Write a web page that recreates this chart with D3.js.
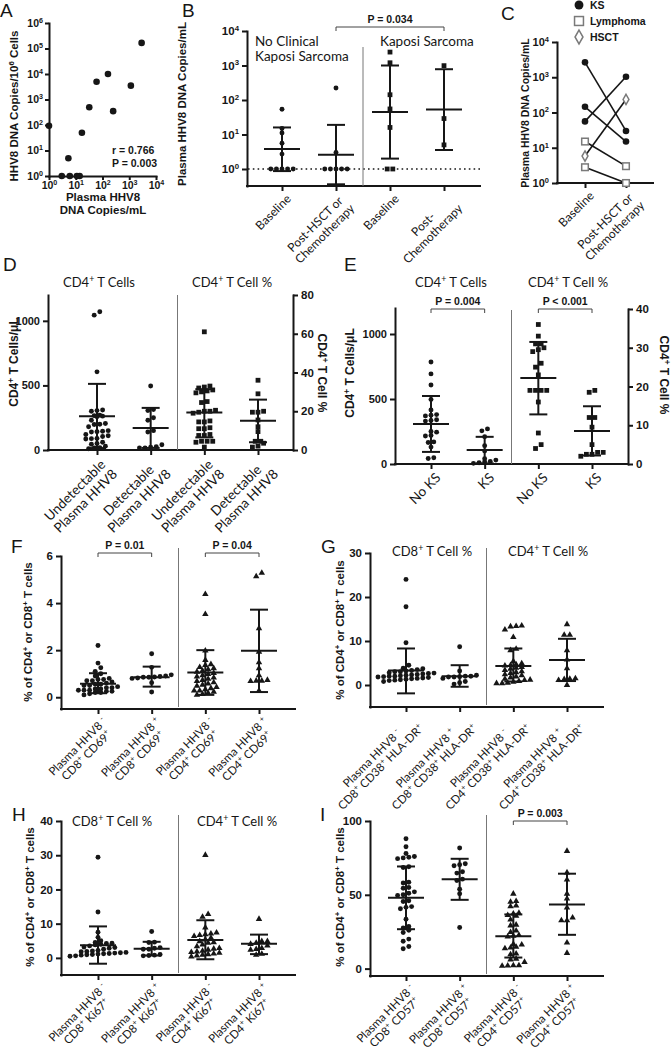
<!DOCTYPE html>
<html><head><meta charset="utf-8">
<script src="https://cdn.jsdelivr.net/npm/d3@7"></script>
<style>body{margin:0;background:#fff}svg{display:block}</style>
</head><body>
<svg id="fig" width="671" height="1049"></svg>
<script>
// ================= DATA =================
// Panel A
const aPlasma = [1, 3, 5.3, 6, 11, 14, 17, 32, 60, 160, 250, 1150, 2900];
const aCells  = [94, 1, 5, 1, 1, 1, 50, 500, 5000, 10000, 350, 3500, 166000];
const aXTicks = [1, 10, 100, 1000, 10000];
const aYTicks = [1, 10, 100, 1000, 10000, 100000, 1000000];
// Panel B
const bKeys = ["b1", "b2", "b3", "b4"];
const bLabels = [["Baseline"], ["Post-HSCT or", "Chemotherapy"], ["Baseline"], ["Post-", "Chemotherapy"]];
const bValues = [[54, 15, 11, 5.6, 2.7, 1, 1, 1, 1, 1], [222, 3, 1, 1, 1, 1, 1], [2450, 1200, 142, 55, 16, 1, 1], [990, 29, 5]];
const bMean = [3.8, 2.6, 45, 53];
const bLow = [0.87, 0.36, 2, 3.55];
const bHigh = [16, 19, 1000, 780];
const bYTicks = [1, 10, 100, 1000, 10000];
// Panel C
const cKeys = ["base", "post"];
const cLabels = [["Baseline"], ["Post-HSCT or", "Chemotherapy"]];
const cGroup = ["KS", "KS", "KS", "Lymphoma", "Lymphoma", "HSCT"];
const cBaseline = [2650, 145, 56, 15, 2.8, 5.8];
const cPost = [30, 15, 1030, 3.0, 1, 235];
const cLegend = ["KS", "Lymphoma", "HSCT"];
const cYTicks = [1, 10, 100, 1000, 10000];
// Panel D
const dKeys = ["d1", "d2", "d3", "d4"];
const dLabels = [["Undetectable", "Plasma HHV8"], ["Detectable", "Plasma HHV8"], ["Undetectable", "Plasma HHV8"], ["Detectable", "Plasma HHV8"]];
const dValues = [
  [1070, 1044, 605, 310, 305, 300, 270, 266, 262, 258, 230, 205, 200, 198, 180, 150, 145, 142, 140, 120, 110, 105, 90, 88, 85, 60, 50, 45, 30, 18, 15, 10],
  [496, 313, 305, 250, 230, 150, 140, 41, 26, 21, 16, 16],
  [61, 33, 32.5, 32, 31, 30.5, 30, 29.5, 25, 24.5, 20.5, 20, 20, 19.5, 19, 15, 14.5, 14.5, 11.5, 11, 11, 8, 7.5, 7.5, 4.5, 4.5, 4.5, 4, 1.5],
  [36, 29, 20, 19.5, 19.5, 15.5, 12, 9.5, 4.5, 4.5, 3.5, 1.5, 2]];
const dMean = [261, 171, 19.4, 15.1];
const dLow = [15, 16, 6.5, 4];
const dHigh = [512, 326, 31.4, 26];
const dLeftTicks = [0, 500, 1000];
const dRightTicks = [0, 20, 40, 60, 80];
// Panel E
const eKeys = ["e1", "e2", "e3", "e4"];
const eLabels = [["No KS"], ["KS"], ["No KS"], ["KS"]];
const eValues = [
  [784, 693, 608, 497, 415, 380, 375, 370, 340, 335, 330, 250, 245, 220, 215, 170, 165, 130, 48, 42],
  [270, 255, 210, 140, 100, 40, 30, 20, 15, 10, 5],
  [36, 33, 31, 31, 30, 29.5, 29, 26, 25, 23, 19, 19, 19, 19, 16, 8, 5, 4],
  [19, 18.5, 12, 12, 9.5, 5, 3, 3, 2.5, 2.5, 2]];
const eMean = [307, 108, 22.2, 8.5];
const eLow = [93, 5, 12.8, 2.2];
const eHigh = [523, 209, 31.5, 14.9];
const eLeftTicks = [0, 500, 1000];
const eRightTicks = [0, 10, 20, 30, 40];
// Panel F
const fKeys = ["f1", "f2", "f3", "f4"];
const fLabels = [["Plasma HHV8 ^{-}", "CD8^{+} CD69^{+}"], ["Plasma HHV8 ^{+}", "CD8^{+} CD69^{+}"], ["Plasma HHV8 ^{-}", "CD4^{+} CD69^{+}"], ["Plasma HHV8 ^{+}", "CD4^{+} CD69^{+}"]];
const fValues = [
  [2.2, 1.45, 1.25, 1.1, 1.0, 0.9, 0.8, 0.75, 0.75, 0.7, 0.7, 0.65, 0.6, 0.55, 0.55, 0.5, 0.5, 0.45, 0.4, 0.4, 0.35, 0.35, 0.3, 0.3, 0.3, 0.25, 0.25, 0.2, 0.2, 0.15, 0.1],
  [1.85, 1.27, 0.95, 0.9, 0.88, 0.86, 0.85, 0.85, 0.82, 0.8, 0.62, 0.22],
  [4.4, 3.55, 2.0, 1.6, 1.42, 1.38, 1.3, 1.25, 1.2, 1.15, 1.1, 1.05, 1.0, 0.95, 0.9, 0.85, 0.8, 0.75, 0.7, 0.65, 0.6, 0.55, 0.5, 0.45, 0.4, 0.35, 0.3, 0.3, 0.25, 0.2, 0.15, 0.12],
  [5.3, 5.15, 2.95, 1.95, 1.5, 1.25, 0.95, 0.75, 0.72, 0.72, 0.7, 0.3]];
const fMean = [0.57, 0.85, 1.05, 1.97];
const fLow = [0.17, 0.45, 0.1, 0.22];
const fHigh = [1.02, 1.3, 2.0, 3.72];
const fTicks = [0, 2, 4, 6];
// Panel G
const gKeys = ["g1", "g2", "g3", "g4"];
const gLabels = [["Plasma HHV8 ^{-}", "CD8^{+} CD38^{+} HLA-DR^{+}"], ["Plasma HHV8 ^{+}", "CD8^{+} CD38^{+} HLA-DR^{+}"], ["Plasma HHV8 ^{-}", "CD4^{+} CD38^{+} HLA-DR^{+}"], ["Plasma HHV8 ^{+}", "CD4^{+} CD38^{+} HLA-DR^{+}"]];
const gValues = [
  [24, 17.8, 9.6, 4.5, 3.8, 3.7, 3.5, 3.3, 3.2, 3, 3, 2.8, 2.7, 2.6, 2.5, 2.4, 2.3, 2.2, 2.1, 2, 2, 1.9, 1.8, 1.7, 1.6, 1.5, 1.4, 1.3, 1.2, 1.1, 1.0, 0.8],
  [8.7, 3.2, 2.2, 2.0, 2.0, 1.9, 1.8, 1.8, 1.5, 0.8, 0.5, 0.2],
  [13.6, 13.5, 13.4, 12.7, 11, 8.3, 8, 5.5, 5, 4.8, 4.6, 4.5, 4.2, 4, 3.8, 3.5, 3.2, 3, 2.8, 2.5, 2.3, 2, 1.8, 1.5, 1.3, 1.2, 1, 0.8, 0.6, 0.5, 0.5],
  [13.9, 11.5, 11.5, 8, 5.9, 3.9, 1.6, 1.5, 1.4, 1.2, 0.1]];
const gMean = [3.3, 2.0, 4.3, 5.7];
const gLow = [-1.9, -0.4, 0.8, 0.9];
const gHigh = [8.3, 4.5, 8.3, 10.5];
const gTicks = [0, 10, 20, 30];
// Panel H
const hKeys = ["h1", "h2", "h3", "h4"];
const hLabels = [["Plasma HHV8 ^{-}", "CD8^{+} Ki67^{+}"], ["Plasma HHV8 ^{+}", "CD8^{+} Ki67^{+}"], ["Plasma HHV8 ^{-}", "CD4^{+} Ki67^{+}"], ["Plasma HHV8 ^{+}", "CD4^{+} Ki67^{+}"]];
const hValues = [
  [29.4, 13.4, 7.5, 6, 5, 4.5, 4.3, 4.2, 4, 3.8, 3.5, 3.2, 3, 2.8, 2.5, 2.2, 2, 1.9, 1.8, 1.6, 1.5, 1.4, 1.3, 1.2, 1.1, 1, 0.9, 0.8, 0.6, 0.5],
  [7.7, 4.6, 4.5, 3.0, 2.8, 2.5, 2.5, 1.0, 0.8, 0.7, 0.6],
  [30.2, 12.9, 12.1, 9, 7.5, 7.2, 7, 6.8, 6.5, 6, 5.5, 5, 4.7, 4.5, 4, 3.5, 3, 2.8, 2.5, 2.2, 2, 1.8, 1.6, 1.4, 1.2, 1, 0.8, 0.5],
  [11.5, 5.0, 5.0, 4.5, 4.2, 3.7, 3.0, 2.7, 2.5, 1.3, 1.0]];
const hMean = [3.7, 2.7, 5.2, 4.1];
const hLow = [-1.7, 0.7, -0.4, 1.1];
const hHigh = [9.2, 4.7, 11, 6.8];
const hTicks = [0, 10, 20, 30, 40];
// Panel I
const iKeys = ["i1", "i2", "i3", "i4"];
const iLabels = [["Plasma HHV8 ^{-}", "CD8^{+} CD57^{+}"], ["Plasma HHV8 ^{+}", "CD8^{+} CD57^{+}"], ["Plasma HHV8 ^{-}", "CD4^{+} CD57^{+}"], ["Plasma HHV8 ^{+}", "CD4^{+} CD57^{+}"]];
const iValues = [
  [88, 82.5, 78, 76, 75.5, 75, 74.5, 69, 68.5, 58.5, 58, 55, 54.5, 52, 51, 50, 49.5, 46, 45.5, 42, 41.5, 40.5, 33.5, 28.5, 27.5, 26, 24.5, 20, 18.5, 15, 13.5],
  [81.7, 71, 70.4, 69.7, 65.6, 64.7, 60.6, 59.7, 53.8, 50.7, 27.8],
  [51, 46, 45.5, 43, 42.5, 38, 37.5, 36.5, 36, 33.5, 30, 29.5, 26, 25, 23, 22.5, 22, 17, 16.5, 15, 14.5, 14, 10.5, 10, 7, 6.5, 4.8, 2.5, 2.5, 2.3, 2.2],
  [80, 65.4, 60.6, 51, 47.7, 41.6, 34.8, 33, 33, 17.9, 10.9]];
const iMean = [48, 60.6, 22, 43.4];
const iLow = [26.7, 46.6, 7.5, 22.9];
const iHigh = [69.2, 74.4, 36.7, 64.3];
const iTicks = [0, 50, 100];

// ================= HELPERS =================
const svg = d3.select("#fig");
const INK = "#161616";
const FB = "'Liberation Sans', Arial, sans-serif";
const FR = "Lato, 'Open Sans', sans-serif";
const SHAPES = {circle: d3.symbolCircle, square: d3.symbolSquare, triangle: d3.symbolTriangle};
const AREA = {circle: 19, square: 23, triangle: 18};
const intFmt = d3.format("d");

function rich(sel, str, size) {
  const parts = str.split(/(\^\{[^}]*\})/).filter(s => s.length);
  let raised = false;
  parts.forEach(p => {
    if (p.startsWith("^{")) {
      sel.append("tspan").attr("dy", raised ? 0 : -0.38 * size).attr("font-size", 0.68 * size).text(p.slice(2, -1));
      raised = true;
    } else {
      const t = sel.append("tspan").text(p);
      if (raised) { t.attr("dy", 0.38 * size); raised = false; }
    }
  });
}
function txt(g, x, y, str, o = {}) {
  const size = o.size || 12;
  const t = g.append("text").attr("x", x).attr("y", y)
    .attr("font-family", o.font || FR).attr("font-size", size)
    .attr("font-weight", o.weight || "normal").attr("fill", o.fill || INK)
    .attr("text-anchor", o.anchor || "start");
  rich(t, str, size);
  return t;
}
function vtxt(g, cx, cy, str, o = {}, angle = -90) {
  const size = o.size || 12;
  const off = angle === -90 ? 0.36 * size : -0.36 * size;
  const t = g.append("text").attr("transform", `translate(${cx + off},${cy}) rotate(${angle})`)
    .attr("font-family", o.font || FB).attr("font-size", size)
    .attr("font-weight", o.weight || "bold").attr("fill", INK).attr("text-anchor", "middle");
  rich(t, str, size);
  return t;
}
function styleAxis(ax, size) {
  ax.attr("font-size", null).attr("font-family", null);
  ax.select(".domain").attr("stroke", INK).attr("stroke-width", 2).attr("stroke-linecap", "square");
  ax.selectAll(".tick line").attr("stroke", INK).attr("stroke-width", 2);
  ax.selectAll(".tick text").attr("fill", INK).attr("font-family", FB).attr("font-weight", "bold").attr("font-size", size);
}
function powLabels(ax, size) {
  ax.selectAll(".tick text").each(function (d) {
    const s = d3.select(this); s.text("");
    rich(s, "10^{" + Math.round(Math.log10(d)) + "}", size);
  });
}
function yLeft(g, scale, x, ticks, size = 11.5, pad = 3) {
  const ax = g.append("g").attr("transform", `translate(${x},0)`)
    .call(d3.axisLeft(scale).tickValues(ticks).tickSize(5).tickSizeOuter(0).tickPadding(pad).tickFormat(intFmt));
  styleAxis(ax, size);
  return ax;
}
function yRight(g, scale, x, ticks, size = 11.5) {
  const ax = g.append("g").attr("transform", `translate(${x},0)`)
    .call(d3.axisRight(scale).tickValues(ticks).tickSize(5).tickSizeOuter(0).tickPadding(3).tickFormat(intFmt));
  styleAxis(ax, size);
  return ax;
}
function xCats(g, xs, y0, x0, x1) {
  g.append("line").attr("x1", x0).attr("x2", x1).attr("y1", y0).attr("y2", y0)
    .attr("stroke", INK).attr("stroke-width", 2).attr("stroke-linecap", "square");
  const ax = g.append("g").attr("transform", `translate(0,${y0})`)
    .call(d3.axisBottom(xs).tickSize(5).tickSizeOuter(0).tickFormat(""));
  ax.select(".domain").remove();
  ax.selectAll(".tick line").attr("stroke", INK).attr("stroke-width", 2);
}
function catLabels(g, xs, keys, labels, y0, size, lh) {
  keys.forEach((k, i) => {
    const t = g.append("text").attr("transform", `translate(${xs(k) + 3},${y0 + 7}) rotate(-45)`)
      .attr("font-family", FR).attr("font-size", size).attr("fill", INK).attr("text-anchor", "middle");
    const spans = labels[i].map((ln, j) => {
      const s = t.append("tspan").attr("x", 0).attr("y", size * 0.78 + j * lh);
      rich(s, ln, size); return s;
    });
    const w = d3.max(spans, s => s.node().getComputedTextLength());
    spans.forEach(s => s.attr("x", -w / 2));
  });
}
function columns(g, xs, keys, vals, yScales, shapes, means, lows, highs) {
  keys.forEach((k, i) => {
    const y = yScales[i], cx = xs(k);
    const pts = vals[i].map(v => ({v, py: y(v)})).sort((a, b) => b.py - a.py);
    const bins = []; let cur = null;
    pts.forEach(p => {
      if (!cur || Math.abs(p.py - cur.start) > 4.2) { cur = {start: p.py, items: []}; bins.push(cur); }
      cur.items.push(p);
    });
    bins.forEach(b => { const n = b.items.length; b.items.forEach((p, j) => p.px = cx + (j - (n - 1) / 2) * 5.6); });
    const sym = d3.symbol().type(SHAPES[shapes[i]]).size(AREA[shapes[i]]);
    g.append("g").selectAll("path").data(pts).join("path").attr("d", sym)
      .attr("transform", p => `translate(${p.px},${p.py + (shapes[i] === "triangle" ? 0.5 : 0)})`).attr("fill", INK);
    const ym = y(means[i]), yl = y(lows[i]), yh = y(highs[i]);
    const eb = g.append("g").attr("stroke", INK).attr("stroke-width", 2);
    eb.append("line").attr("x1", cx).attr("x2", cx).attr("y1", yl).attr("y2", yh);
    eb.append("line").attr("x1", cx - 9).attr("x2", cx + 9).attr("y1", yl).attr("y2", yl);
    eb.append("line").attr("x1", cx - 9).attr("x2", cx + 9).attr("y1", yh).attr("y2", yh);
    eb.append("line").attr("x1", cx - 18).attr("x2", cx + 18).attr("y1", ym).attr("y2", ym);
  });
}
function bracket(g, xa, xb, y, label) {
  g.append("path").attr("d", `M${xa},${y + 4}V${y}H${xb}V${y + 4}`).attr("fill", "none")
    .attr("stroke", "#444").attr("stroke-width", 1);
  txt(g, (xa + xb) / 2, y - 4.5, label, {font: FB, weight: "bold", size: 10.5, anchor: "middle"});
}
function separator(g, x, y0, y1) {
  g.append("line").attr("x1", x).attr("x2", x).attr("y1", y0).attr("y2", y1).attr("stroke", "#777").attr("stroke-width", 1);
}
function letter(g, x, y, s) { txt(g, x, y, s, {font: FB, size: 19}); }

// ================= PANEL A =================
{
  const g = svg.append("g");
  const x = d3.scaleLog().domain([1, 1e4]).range([49, 156]);
  const y = d3.scaleLog().domain([1, 1e6]).range([176, 23]);
  const ax = g.append("g").attr("transform", "translate(0,176)")
    .call(d3.axisBottom(x).tickValues(aXTicks).tickSize(4).tickSizeOuter(0).tickPadding(2));
  styleAxis(ax, 10.5); powLabels(ax, 10.5);
  const ay = g.append("g").attr("transform", "translate(49,0)")
    .call(d3.axisLeft(y).tickValues(aYTicks).tickSize(4).tickSizeOuter(0).tickPadding(2));
  styleAxis(ay, 10.5); powLabels(ay, 10.5);
  g.selectAll("circle.a").data(aPlasma).join("circle").attr("class", "a")
    .attr("cx", (d) => x(d)).attr("cy", (d, i) => y(aCells[i])).attr("r", 3.3).attr("fill", INK);
  letter(g, 0, 17, "A");
  vtxt(g, 14, 106, "HHV8 DNA Copies/10^{6} Cells", {size: 11.5});
  txt(g, 103, 201, "Plasma HHV8", {font: FB, weight: "bold", size: 11.5, anchor: "middle"});
  txt(g, 103, 214, "DNA Copies/mL", {font: FB, weight: "bold", size: 11.5, anchor: "middle"});
  txt(g, 112, 154, "r = 0.766", {font: FB, weight: "bold", size: 10.5});
  txt(g, 112, 167, "P = 0.003", {font: FB, weight: "bold", size: 10.5});
}
// ================= PANEL B =================
{
  const g = svg.append("g");
  const xs = d3.scalePoint().domain(bKeys).range([282, 444]);
  const y = d3.scaleLog().domain([Math.pow(10, -0.493), 1e4]).range([186, 31]);
  const ay = g.append("g").attr("transform", "translate(247,0)")
    .call(d3.axisLeft(y).tickValues(bYTicks).tickSize(5).tickSizeOuter(0).tickPadding(3));
  styleAxis(ay, 11.5); powLabels(ay, 11.5);
  xCats(g, xs, 186, 247, 480);
  g.append("line").attr("x1", 248).attr("x2", 480).attr("y1", y(1)).attr("y2", y(1))
    .attr("stroke", INK).attr("stroke-width", 1.6).attr("stroke-dasharray", "1.6,3.2");
  separator(g, (xs("b2") + xs("b3")) / 2, 47, 186);
  columns(g, xs, bKeys, bValues, [y, y, y, y], ["circle", "circle", "square", "square"], bMean, bLow, bHigh);
  bracket(g, xs("b2"), xs("b4"), 27, "P = 0.034");
  txt(g, 255, 46, "No Clinical", {size: 13.5});
  txt(g, 255, 61, "Kaposi Sarcoma", {size: 13.5});
  txt(g, 380, 46, "Kaposi Sarcoma", {size: 13.5});
  catLabels(g, xs, bKeys, bLabels, 186, 12, 13.5);
  letter(g, 182, 17, "B");
  vtxt(g, 182, 104, "Plasma HHV8 DNA Copies/mL", {size: 11.5});
}
// ================= PANEL C =================
{
  const g = svg.append("g");
  const xs = d3.scalePoint().domain(cKeys).range([585, 626]);
  const y = d3.scaleLog().domain([1, 1e4]).range([183, 42]);
  const ay = g.append("g").attr("transform", "translate(557,0)")
    .call(d3.axisLeft(y).tickValues(cYTicks).tickSize(5).tickSizeOuter(0).tickPadding(3));
  styleAxis(ay, 11); powLabels(ay, 11);
  xCats(g, xs, 183, 557, 653);
  const line = d3.line();
  cBaseline.forEach((b, i) => {
    g.append("path").attr("d", line([[xs("base"), y(b)], [xs("post"), y(cPost[i])]]))
      .attr("stroke", INK).attr("stroke-width", 1.6).attr("fill", "none");
  });
  const mk = (grp, px, py, big) => {
    const s = big ? 1.35 : 1;
    if (grp === "KS") g.append("circle").attr("cx", px).attr("cy", py).attr("r", 3.3 * s).attr("fill", INK);
    else if (grp === "Lymphoma") g.append("rect").attr("x", px - 3.3 * s).attr("y", py - 3.3 * s).attr("width", 6.6 * s).attr("height", 6.6 * s)
      .attr("fill", "#fff").attr("stroke", "#7a7a7a").attr("stroke-width", 1.5);
    else g.append("path").attr("d", d3.symbol().type(d3.symbolDiamond).size(30 * s * s)()).attr("transform", `translate(${px},${py})`)
      .attr("fill", "#fff").attr("stroke", "#7a7a7a").attr("stroke-width", 1.5);
  };
  cBaseline.forEach((b, i) => { mk(cGroup[i], xs("base"), y(b)); mk(cGroup[i], xs("post"), y(cPost[i])); });
  cLegend.forEach((name, i) => {
    const ly = 5 + i * 16;
    mk(name, 579, ly, true);
    txt(g, 590, ly + 4, name, {font: FB, weight: "bold", size: 10.5});
  });
  catLabels(g, xs, cKeys, cLabels, 183, 12, 13.5);
  letter(g, 501, 20, "C");
  vtxt(g, 525, 113, "Plasma HHV8 DNA Copies/mL", {size: 10.5});
}
// ================= PANEL D =================
{
  const g = svg.append("g");
  const xs = d3.scalePoint().domain(dKeys).range([97, 258]);
  const yl = d3.scaleLinear().domain([0, 1200]).range([450, 295]);
  const yr = d3.scaleLinear().domain([0, 80]).range([450, 295]);
  yLeft(g, yl, 48, dLeftTicks, 11);
  yRight(g, yr, 293, dRightTicks, 11.5);
  xCats(g, xs, 450, 48, 293);
  separator(g, (xs("d2") + xs("d3")) / 2, 295, 450);
  columns(g, xs, dKeys, dValues, [yl, yl, yr, yr], ["circle", "circle", "square", "square"], dMean, dLow, dHigh);
  txt(g, 63, 287, "CD4^{+} T Cells", {size: 13});
  txt(g, 192, 287, "CD4^{+} T Cell %", {size: 13});
  catLabels(g, xs, dKeys, dLabels, 450, 13.5, 15);
  letter(g, 3, 271, "D");
  vtxt(g, 14, 362, "CD4^{+} T Cells/μL", {size: 12});
  vtxt(g, 322, 373, "CD4^{+} T Cell %", {size: 12}, 90);
}
// ================= PANEL E =================
{
  const g = svg.append("g");
  const xs = d3.scalePoint().domain(eKeys).range([431, 592]);
  const yl = d3.scaleLinear().domain([0, 1200]).range([464, 308]);
  const yr = d3.scaleLinear().domain([0, 40]).range([464, 309]);
  yLeft(g, yl, 395, eLeftTicks, 11);
  yRight(g, yr, 628, eRightTicks, 11.5);
  xCats(g, xs, 464, 395, 628);
  separator(g, (xs("e2") + xs("e3")) / 2, 310, 464);
  columns(g, xs, eKeys, eValues, [yl, yl, yr, yr], ["circle", "circle", "square", "square"], eMean, eLow, eHigh);
  bracket(g, xs("e1"), xs("e2"), 309, "P = 0.004");
  bracket(g, xs("e3"), xs("e4"), 309, "P < 0.001");
  txt(g, 415, 287, "CD4^{+} T Cells", {size: 13});
  txt(g, 528, 287, "CD4^{+} T Cell %", {size: 13});
  catLabels(g, xs, eKeys, eLabels, 464, 13.5, 15);
  letter(g, 344, 271, "E");
  vtxt(g, 350, 373, "CD4^{+} T Cells/μL", {size: 12});
  vtxt(g, 664, 375, "CD4^{+} T Cell %", {size: 12}, 90);
}
// ================= PANELS F-I =================
function bottomPanel(o) {
  const g = svg.append("g");
  const xs = d3.scalePoint().domain(o.keys).range(o.xr);
  const y = d3.scaleLinear().domain(o.dom).range(o.yr);
  yLeft(g, y, o.ax0, o.ticks, 11.5);
  xCats(g, xs, o.yr[0], o.ax0, o.ax1);
  separator(g, (xs(o.keys[1]) + xs(o.keys[2])) / 2, o.sepTop, o.yr[0] - 2);
  columns(g, xs, o.keys, o.vals, [y, y, y, y], ["circle", "circle", "triangle", "triangle"], o.mean, o.low, o.high);
  (o.brackets || []).forEach(b => bracket(g, xs(o.keys[b[0]]), xs(o.keys[b[1]]), o.brY, b[2]));
  (o.headers || []).forEach(h => txt(g, h[0], o.hY, h[1], {size: 13}));
  catLabels(g, xs, o.keys, o.labels, o.yr[0], 11.5, 12.5);
  letter(g, o.letter[0], o.letter[1], o.letter[2]);
  vtxt(g, o.title[0], o.title[1], "% of CD4^{+} or CD8^{+} T cells", {size: 11.5});
}
bottomPanel({keys: fKeys, xr: [98, 259], dom: [-0.5, 6], yr: [709, 556], ax0: 61, ax1: 295, ticks: fTicks,
  vals: fValues, mean: fMean, low: fLow, high: fHigh, labels: fLabels, sepTop: 548,
  brackets: [[0, 1, "P = 0.01"], [2, 3, "P = 0.04"]], brY: 553,
  letter: [11, 553, "F"], title: [28, 632]});
bottomPanel({keys: gKeys, xr: [406, 567], dom: [-5, 30], yr: [707, 553], ax0: 370, ax1: 603, ticks: gTicks,
  vals: gValues, mean: gMean, low: gLow, high: gHigh, labels: gLabels, sepTop: 548,
  headers: [[392, "CD8^{+} T Cell %"], [508, "CD4^{+} T Cell %"]], hY: 556,
  letter: [321, 553, "G"], title: [340, 630]});
bottomPanel({keys: hKeys, xr: [98, 259], dom: [-5, 40], yr: [975, 821], ax0: 61, ax1: 295, ticks: hTicks,
  vals: hValues, mean: hMean, low: hLow, high: hHigh, labels: hLabels, sepTop: 815,
  headers: [[72, "CD8^{+} T Cell %"], [197, "CD4^{+} T Cell %"]], hY: 826,
  letter: [12, 821, "H"], title: [30, 897]});
bottomPanel({keys: iKeys, xr: [406, 567], dom: [-5, 100], yr: [976, 821], ax0: 370, ax1: 603, ticks: iTicks,
  vals: iValues, mean: iMean, low: iLow, high: iHigh, labels: iLabels, sepTop: 815,
  brackets: [[2, 3, "P = 0.003"]], brY: 821,
  letter: [320, 821, "I"], title: [340, 897]});
</script>
</body></html>
